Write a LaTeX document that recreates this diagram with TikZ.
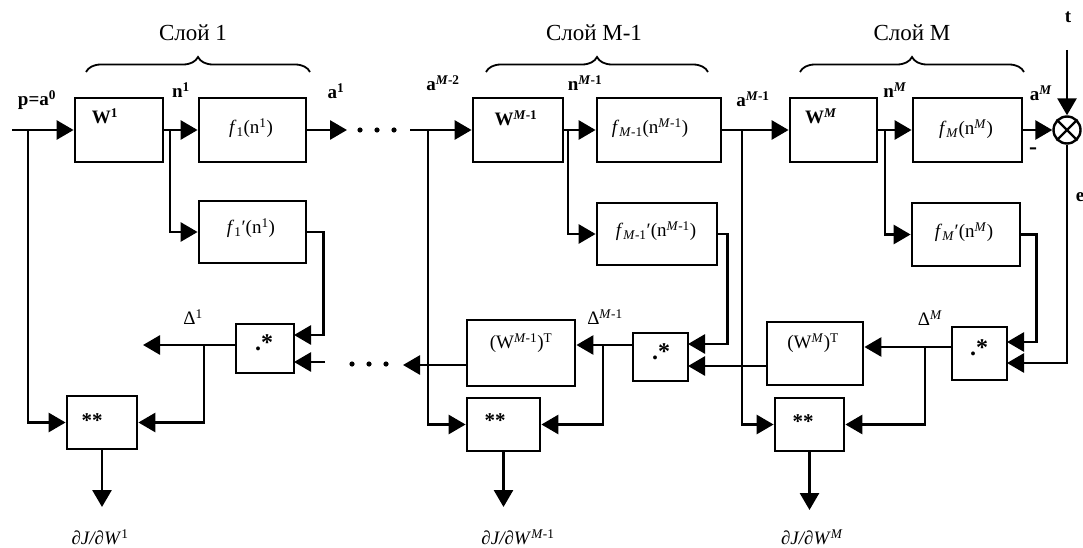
\documentclass[tikz,border=0pt]{standalone}
\usepackage{fontspec}
\setmainfont{Liberation Serif}
\usetikzlibrary{arrows.meta,decorations.pathreplacing,calc}
\newcommand\myfs[1]{\fontsize{#1}{#1}\selectfont}
\begin{document}
\begin{tikzpicture}[x=1pt,y=-1pt,line width=2.8pt,
  box/.style={draw,line width=2.8pt,inner sep=0pt},
  ar/.style={-{Triangle[length=17pt,width=19pt]}},
  lab/.style={inner sep=0pt,font=\myfs{19}},
  blab/.style={inner sep=0pt,font=\myfs{19}\bfseries},
  title/.style={inner sep=0pt,font=\myfs{23}},
  brc/.style={decorate,decoration={brace,amplitude=15pt},line width=1.8pt},
  star/.style={inner sep=0pt,font=\myfs{21}\bfseries},
  dstar/.style={inner sep=0pt,font=\myfs{24}\bfseries}]
\useasboundingbox (0,0) rectangle (1083,548);

% ---------- boxes ----------
\node[box,minimum width=88pt,minimum height=64pt] (w1) at (119,130) {};
\node[box,minimum width=107pt,minimum height=64pt] (f1) at (252.5,130) {};
\node[box,minimum width=107pt,minimum height=62pt] (fd1) at (252.5,232) {};
\node[box,minimum width=58pt,minimum height=49pt] (dot1) at (265,348.5) {};
\node[box,minimum width=70pt,minimum height=53pt] (ss1) at (102,422.5) {};

\node[box,minimum width=90pt,minimum height=64pt] (wm1) at (518,130) {};
\node[box,minimum width=124pt,minimum height=64pt] (fm1) at (659,130) {};
\node[box,minimum width=120pt,minimum height=62pt] (fdm1) at (657,234) {};
\node[box,minimum width=108pt,minimum height=66pt] (wtm1) at (521,353) {};
\node[box,minimum width=55pt,minimum height=48pt] (dotm1) at (660.5,357) {};
\node[box,minimum width=73pt,minimum height=53pt] (ssm1) at (503.5,424.5) {};

\node[box,minimum width=87pt,minimum height=64pt] (wm) at (833.5,130) {};
\node[box,minimum width=109pt,minimum height=64pt] (fm) at (967.5,130) {};
\node[box,minimum width=108pt,minimum height=63pt] (fdm) at (966,234.5) {};
\node[box,minimum width=55pt,minimum height=53pt] (dotm) at (979.5,353.5) {};
\node[box,minimum width=96pt,minimum height=63pt] (wtm) at (815,353.5) {};
\node[box,minimum width=69pt,minimum height=53pt] (ssm) at (809.5,424.5) {};
\node[draw,circle,line width=2.4pt,minimum size=27pt,inner sep=0pt] (sum) at (1067,130) {};
\draw[line width=2.2pt] (sum.north west) -- (sum.south east) (sum.north east) -- (sum.south west);

% ---------- box texts ----------
\node[blab] (tw1) at (105,116) {W\textsuperscript{1}};
\node[lab] (tf1) at (251,128) {\textit{f}\textsubscript{1}(n\textsuperscript{1})};
\node[lab] (tfd1) at (251,228) {\textit{f}\textsubscript{1}′(n\textsuperscript{1})};
\node[dstar] (tdot1) at (264,343) {.*};
\node[star] (tss1) at (92,421) {**};

\node[blab] (twm1) at (516,118) {W\textsuperscript{\textit{M}-1}};
\node[lab] (tfm1) at (650,128) {\textit{f}\textsubscript{\textit{M}-1}(n\textsuperscript{\textit{M}-1})};
\node[lab] (tfdm1) at (656,231) {\textit{f}\textsubscript{\textit{M}-1}′(n\textsuperscript{\textit{M}-1})};
\node[lab] (twtm1) at (521,343) {(W\textsuperscript{\textit{M}-1})\textsuperscript{T}};
\node[dstar] (tdotm1) at (661,352) {.*};
\node[star] (tssm1) at (495,421) {**};

\node[blab] (twm) at (821,116) {W\textsuperscript{\textit{M}}};
\node[lab] (tfm) at (966,129) {\textit{f}\textsubscript{\textit{M}}(n\textsuperscript{\textit{M}})};
\node[lab] (tfdm) at (964,232) {\textit{f}\textsubscript{\textit{M}}′(n\textsuperscript{\textit{M}})};
\node[lab] (twtm) at (813,343) {(W\textsuperscript{\textit{M}})\textsuperscript{T}};
\node[dstar] (tdotm) at (979,348) {.*};
\node[star] (tssm) at (803,422) {**};

% ---------- titles and braces ----------
\node[title] (L1) at (193,33) {Слой 1};
\node[title] (LM1) at (594,33) {Слой M-1};
\node[title] (LM) at (912,33) {Слой M};
\draw[brc] (86,72) -- (310,72);
\draw[brc] (486,72) -- (708,72);
\draw[brc] (800,72) -- (1024,72);

% ---------- signal labels ----------
\node[blab] (lp) at (37,100) {p=a\textsuperscript{0}};
\node[blab] (ln1) at (181,90) {n\textsuperscript{1}};
\node[blab] (la1) at (336,91) {a\textsuperscript{1}};
\node[blab] (lam2) at (443,83) {a\textsuperscript{\textit{M}-2}};
\node[blab] (lnm1) at (585,83) {n\textsuperscript{\textit{M}-1}};
\node[blab] (lam1) at (753,99) {a\textsuperscript{\textit{M}-1}};
\node[blab] (lnm) at (895,90) {n\textsuperscript{\textit{M}}};
\node[blab] (lam) at (1041,93) {a\textsuperscript{\textit{M}}};
\node[blab] (lt) at (1068,17) {t};
\node[blab] (le) at (1080,197) {e};
\node[inner sep=0pt,font=\myfs{24}\bfseries] (lminus) at (1033,151) {-};
\node[lab] (ld1) at (193,317) {Δ\textsuperscript{1}};
\node[lab] (ldm1) at (605,317) {Δ\textsuperscript{\textit{M}-1}};
\node[lab] (ldm) at (930,318) {Δ\textsuperscript{\textit{M}}};
\node[lab] (lg1) at (100,537) {\textit{∂J/∂W}\textsuperscript{1}};
\node[lab] (lgm1) at (518,537) {\textit{∂J/∂W}\textsuperscript{\textit{M}-1}};
\node[lab] (lgm) at (812,537) {\textit{∂J/∂W}\textsuperscript{\textit{M}}};

% ---------- coordinates ----------
\coordinate (in) at (12,130);
\coordinate (j1) at (28,130);
\coordinate (j2) at (170,130);
\coordinate (a1e) at (347,130);
\coordinate (d1in1) at (294,335);
\coordinate (d1in2) at (294,362);
\coordinate (d1src) at (325,362);
\coordinate (dl1) at (143,345);
\coordinate (j3) at (204,345);
\coordinate (o1) at (102,507);

\coordinate (s2) at (410,130);
\coordinate (j4) at (428,130);
\coordinate (j5) at (568,130);
\coordinate (j6) at (742,130);
\coordinate (dm1in1) at (688,344);
\coordinate (dm1in2) at (688,366);
\coordinate (dlm1) at (603,345);
\coordinate (lm1) at (403,365);
\coordinate (om1) at (503.5,507);

\coordinate (j7) at (885,130);
\coordinate (tt) at (1067,50);
\coordinate (dmin1) at (1007,342);
\coordinate (dmin2) at (1007,363);
\coordinate (dlm) at (925,347);
\coordinate (om) at (809.5,510);

% ---------- layer 1 connectors ----------
\draw[ar] (in) -- (w1);
\draw[ar] (j1) |- (ss1.west);
\draw[ar] (w1) -- (f1);
\draw[ar] (j2) |- (fd1.west);
\draw[ar] (f1) -- (a1e);
\draw[ar] (fd1.east) -- ++(16,0) |- (d1in1);
\draw[ar] (d1src) -- (d1in2);
\draw[ar] (dot1.west |- dl1) -- (dl1);
\draw[ar] (j3) |- (ss1.east);
\draw[ar] (ss1) -- (o1);
\foreach \xx in {360,377,394} \fill (\xx,130) circle (2.6pt);
\foreach \xx in {352,369,386} \fill (\xx,364) circle (2.6pt);

% ---------- layer M-1 connectors ----------
\draw[ar] (s2) -- (wm1);
\draw[ar] (j4) |- (ssm1.west);
\draw[ar] (wm1) -- (fm1);
\draw[ar] (j5) |- (fdm1.west);
\draw[ar] (fm1) -- (wm);
\draw[ar] (j6) |- (ssm.west);
\draw[ar] (fdm1.east) -- ++(9,0) |- (dm1in1);
\draw[ar] (dotm1.west |- dlm1) -- (wtm1.east |- dlm1);
\draw[ar] (dlm1) |- (ssm1.east);
\draw[ar] (wtm1.west |- lm1) -- (lm1);
\draw[ar] (ssm1) -- (om1);

% ---------- layer M connectors ----------
\draw[ar] (wm) -- (fm);
\draw[ar] (j7) |- (fdm.west);
\draw[ar] (fm) -- (sum);
\draw[ar] (tt) -- (sum);
\draw[ar] (sum.south) |- (dmin2);
\draw[ar] (fdm.east) -- ++(15,0) |- (dmin1);
\draw[ar] (dotm.west |- dlm) -- (wtm.east |- dlm);
\draw[ar] (dlm) |- (ssm.east);
\draw[ar] (wtm.west |- dm1in2) -- (dm1in2);
\draw[ar] (ssm) -- (om);
\end{tikzpicture}
\end{document}
